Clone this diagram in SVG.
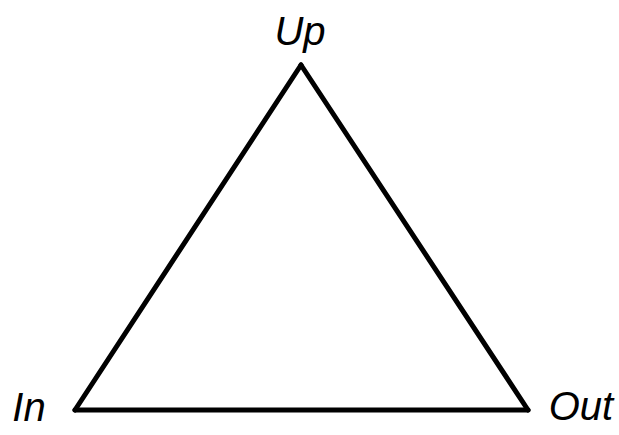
<svg xmlns="http://www.w3.org/2000/svg" width="619" height="435" viewBox="0 0 619 435">
<style>
.lbl{font-family:"Liberation Sans","DejaVu Sans",sans-serif;font-style:italic;font-size:40px;fill:#000}
.edge{stroke:#000;stroke-width:5;fill:none;stroke-linecap:round;stroke-linejoin:round}
</style>
<rect width="619" height="435" fill="#fff"/>
<g id="connectors">
<path class="edge" d="M301 65 L75 410"/>
<path class="edge" d="M301 65 L528 410"/>
<path class="edge" d="M75 410 L528 410"/>
</g>
<g id="node-up"><text class="lbl" x="300" y="45" text-anchor="middle">Up</text></g>
<g id="node-in"><text class="lbl" x="29" y="421" text-anchor="middle">In</text></g>
<g id="node-out"><text class="lbl" x="581" y="420" text-anchor="middle">Out</text></g>
</svg>
